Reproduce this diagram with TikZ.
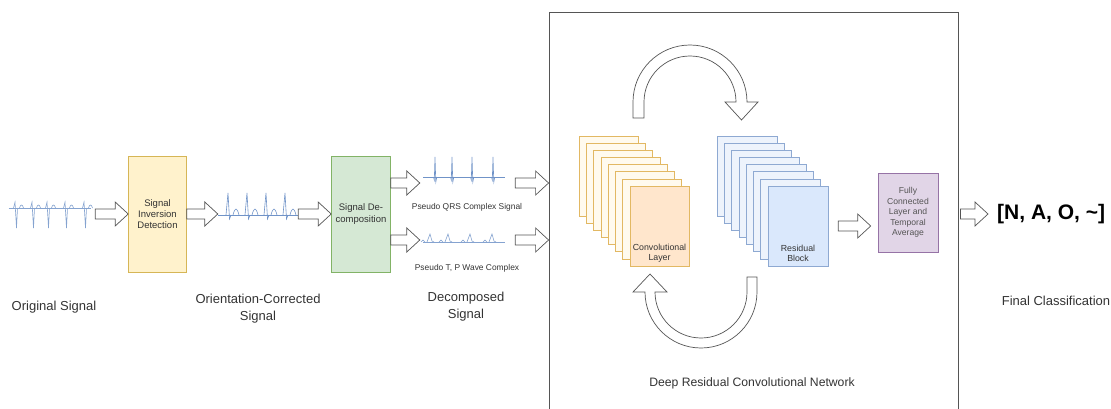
\documentclass[tikz,border=0pt]{standalone}
\usepackage{fontspec}
\setmainfont{Liberation Sans}
\usetikzlibrary{positioning,calc}
\definecolor{txtgray}{HTML}{333333}
\definecolor{arrowgray}{HTML}{555555}
\definecolor{ecgblue}{HTML}{7093C8}
\definecolor{invfill}{HTML}{FFF2CC}
\definecolor{invdraw}{HTML}{D6B656}
\definecolor{decfill}{HTML}{D5E8D4}
\definecolor{decdraw}{HTML}{82B366}
\definecolor{fcfill}{HTML}{E1D5E7}
\definecolor{fcdraw}{HTML}{9673A6}
\definecolor{convback}{HTML}{FFFAEE}
\definecolor{convfront}{HTML}{FFE6CC}
\definecolor{convdraw}{HTML}{E2B863}
\definecolor{resback}{HTML}{EDF3FC}
\definecolor{resfront}{HTML}{DAE8FC}
\definecolor{resdraw}{HTML}{8EA9D2}
\tikzset{
  procbox/.style={draw, line width=0.6pt, minimum width=58pt, minimum height=116pt, inner sep=0pt,
    align=center, text=txtgray, font=\fontsize{9.5}{11.3}\selectfont},
  signal/.style={minimum width=85pt, minimum height=44pt, inner sep=0pt},
  trace/.style={ecgblue, line width=0.6pt, line join=miter},
  caption/.style={align=center, text=txtgray, font=\fontsize{13}{17}\selectfont},
  smallcap/.style={text=txtgray, font=\fontsize{8.4}{10}\selectfont},
  stacktext/.style={align=center, text=txtgray, font=\fontsize{8.8}{10.7}\selectfont},
  layer/.style={draw, line width=0.6pt, minimum width=59pt, minimum height=80pt, inner sep=0pt},
  blockarr/.style={draw=arrowgray, fill=white, line width=0.7pt,
    to path={let \p1=(\tikztostart), \p2=(\tikztotarget) in
      (\x1,\y1+5pt) -- (\x2-13pt,\y1+5pt) -- (\x2-13pt,\y1+12pt) -- (\x2,\y1)
      -- (\x2-13pt,\y1-12pt) -- (\x2-13pt,\y1-5pt) -- (\x1,\y1-5pt) -- cycle}},
  loopbody/.style={draw=arrowgray, fill=white, line width=0.7pt},
}
\begin{document}
\begin{tikzpicture}[x=1pt,y=-1pt]
 \useasboundingbox (0,0) rectangle (1111,409);
 \node[draw=arrowgray, line width=0.8pt, minimum width=409pt, minimum height=408pt] (net) at (753.5,216) {};
 \node[signal] (orig) at (52.5,214) {};
 \node[procbox, fill=invfill, draw=invdraw, right=33pt of orig] (inv) {Signal\\Inversion\\Detection};
 \node[signal, minimum width=80pt, right=31pt of inv] (corr) {};
 \node[procbox, fill=decfill, draw=decdraw, minimum width=59pt, right=33pt of corr] (dec) {Signal De-\\composition};
 \node[signal, minimum width=95pt, minimum height=40pt] (qrs) at (467.5,183) {};
 \node[signal, minimum width=95pt, minimum height=20pt] (tp) at (467.5,240) {};
 \node[smallcap] (qrscap) at (467,207) {Pseudo QRS Complex Signal};
 \node[smallcap] (tpcap) at (467,268) {Pseudo T, P Wave Complex};
 \node[caption] (origcap) at (54,307) {Original Signal};
 \node[caption] (corrcap) at (258,308.5) {Orientation-Corrected\\Signal};
 \node[caption] (deccap) at (466,307) {Decomposed\\Signal};
 \foreach \i in {0,...,6} {
  \draw[convdraw, fill=convback, line width=0.6pt] (579+7.29*\i,136+7.14*\i) rectangle +(59,80);
  \draw[resdraw, fill=resback, line width=0.6pt] (717+7.29*\i,136+7.14*\i) rectangle +(60,80);
 }
 \node[layer, fill=convfront, draw=convdraw] (conv) at (659.5,226) {};
 \node[layer, fill=resfront, draw=resdraw, minimum width=60pt] (res) at (798,226) {};
 \node[stacktext] (convtxt) at ([yshift=13pt]conv.south) {Convolutional\\Layer};
 \node[stacktext] (restxt) at ([yshift=13pt]res.south) {Residual\\Block};
 \node[draw=fcdraw, fill=fcfill, line width=0.6pt, minimum width=60pt, minimum height=79pt, inner sep=0pt,
  align=center, text=arrowgray, font=\fontsize{8.6}{10.4}\selectfont] (fc) at (908,212.5)
  {Fully\\Connected\\Layer and\\Temporal\\Average};
 \node[text=black, font=\bfseries\fontsize{21}{24}\selectfont, anchor=west, inner sep=0pt] (cls) at (997,214) {[N, A, O, \textasciitilde]};
 \node[caption] (clscap) at (1056,301) {Final Classification};
 \node[caption, font=\fontsize{12.2}{15}\selectfont] (netcap) at (752,383) {Deep Residual Convolutional Network};
 \begin{scope}[shift={(orig.center)}]
  \draw[trace, ecgblue!85] (-44,-6) -- (38,-6);
  \foreach \b in {-36,-19,-4,14,33} {
   \draw[trace, ecgblue!85] (\b-3,-6) -- (\b-1.5,-12) -- (\b,14) -- (\b+1,-6);
   \draw[trace, ecgblue!85] (\b+3,-6) .. controls (\b+4,-10) and (\b+6,-10) .. (\b+7,-6);
  }
 \end{scope}
 \begin{scope}[shift={(corr.center)}]
  \draw[trace] (-40,1) -- (40,1);
  \foreach \b in {-30,-11,8,27} {
   \draw[trace] (\b-2,1) -- (\b,-21) -- (\b+1.5,5) -- (\b+3,1);
   \draw[trace] (\b+5,1) .. controls (\b+7,-7) and (\b+9,-7) .. (\b+11,1);
  }
 \end{scope}
 \begin{scope}[shift={(qrs.center)}]
  \draw[trace] (-44.5,-6) -- (37.5,-6);
  \foreach \b in {-32.5,-15.5,4.5,25.5}
   \draw[trace] (\b-1.5,-6) -- (\b-0.7,-3) -- (\b,-26) -- (\b+0.8,-1) -- (\b+1.8,-6);
 \end{scope}
 \begin{scope}[shift={(tp.center)}]
  \draw[trace, ecgblue!85] (-44.5,2) -- (37.5,2);
  \foreach \b in {-37.5,-19.5,2.5,24.5} {
   \draw[trace, ecgblue!85] (\b-3,2) -- (\b,-6) -- (\b+2,1) -- (\b+4,2);
   \draw[trace, ecgblue!85] (\b-9,2) .. controls (\b-8,-0.5) and (\b-6,-0.5) .. (\b-5,2);
  }
 \end{scope}
 \draw[blockarr] (orig.east) to (inv.west);
 \draw[blockarr] (inv.east) to (corr.west);
 \draw[blockarr] (corr.east) to (dec.west);
 \draw[blockarr] (dec.east |- qrs.west) to (qrs.west);
 \draw[blockarr] (dec.east |- tp.west) to (tp.west);
 \draw[blockarr] (qrs.east) to (qrs.east -| net.west);
 \draw[blockarr] (tp.east) to (tp.east -| net.west);
 \draw[blockarr] ([xshift=10pt]res.east) to ([xshift=-7pt]fc.west);
 \draw[blockarr] ([xshift=2pt]net.east |- cls.west) to ([xshift=-9pt]cls.west);
 \draw[loopbody] (633,118) -- (633,102) arc[start angle=180, end angle=360, radius=57] -- (747,102)
  -- (758,102) -- (741.5,120) -- (725,102) -- (736,102) arc[start angle=0, end angle=-180, radius=46]
  -- (644,118) -- cycle;
 \draw[loopbody] (757,277) -- (757,292) arc[start angle=0, end angle=180, radius=56] -- (633,292)
  -- (650,274) -- (667,292) -- (655,292) arc[start angle=180, end angle=0, radius=46]
  -- (747,277) -- cycle;
\end{tikzpicture}
\end{document}
